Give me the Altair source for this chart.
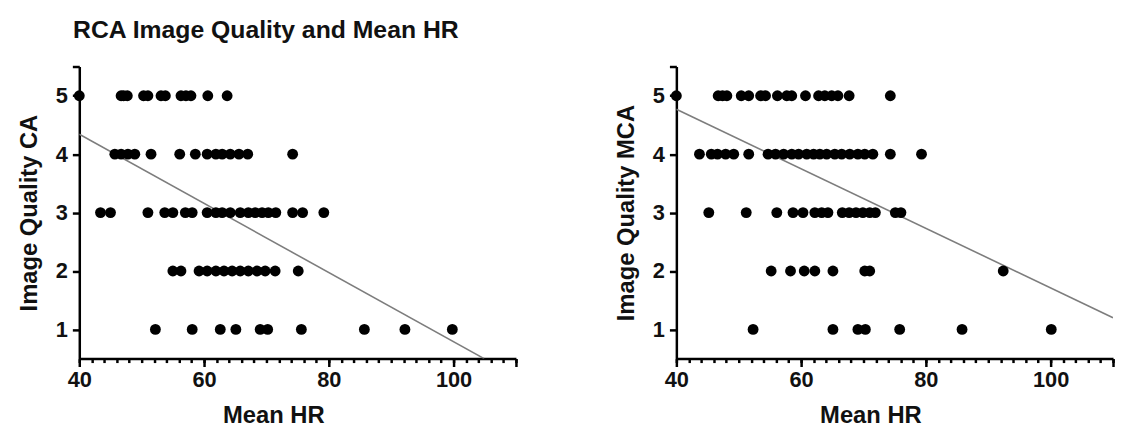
import altair as alt
import pandas as pd

# ---- data ----
quality_levels = [5, 4, 3, 2, 1]

rca_hr = {
    5: [40, 46.7, 47.1, 47.7, 50.3, 51.0, 53.1, 53.8, 56.3, 57.1, 57.9, 60.6, 63.7],
    4: [45.7, 46.7, 47.8, 48.9, 51.5, 56.1, 58.6, 60.5, 61.9, 62.9, 64.2, 65.6, 67.0, 74.2],
    3: [43.4, 45.0, 51.0, 53.7, 55.0, 57.0, 58.1, 60.5, 61.9, 62.9, 64.2, 65.8, 67.1,
        68.2, 69.3, 70.3, 71.5, 74.2, 75.8, 79.2],
    2: [55.0, 56.3, 59.2, 60.5, 61.9, 63.2, 64.5, 65.8, 67.1, 68.5, 69.8, 71.4, 75.1],
    1: [52.2, 58.1, 62.6, 65.1, 69.0, 70.2, 75.6, 85.7, 92.2, 99.8],
}
mca_hr = {
    5: [40, 46.7, 47.4, 48.1, 50.4, 51.6, 53.5, 54.3, 56.2, 57.7, 58.5, 60.7, 62.8,
        63.8, 64.9, 65.9, 67.7, 74.3],
    4: [43.7, 45.6, 46.6, 47.9, 49.2, 51.6, 54.7, 55.9, 57.2, 58.5, 59.6, 60.9, 62.0,
        63.0, 64.1, 65.4, 66.5, 67.8, 69.1, 70.2, 71.5, 74.3, 79.3],
    3: [45.2, 51.2, 56.1, 58.7, 60.3, 62.2, 63.3, 64.3, 66.6, 67.7, 68.8, 69.9, 71.0,
        71.9, 75.1, 76.0],
    2: [55.2, 58.3, 60.5, 62.2, 65.1, 70.2, 71.0, 92.4],
    1: [52.3, 65.1, 69.1, 70.3, 75.8, 85.8, 100.1],
}

# fitted lines as drawn in the reference (end points)
rca_line_x = [40, 104.9]
rca_line_y = [4.34, 0.5]
mca_line_x = [40, 110]
mca_line_y = [4.77, 1.20]

x_major_ticks = [40, 60, 80, 100, 110]
x_minor_ticks = list(range(40, 111, 2))
y_ticks = [1, 2, 3, 4, 5, 5.5]

title_text = "RCA Image Quality and Mean HR"
x_title = "Mean HR"
rca_y_title = "Image Quality CA"
mca_y_title = "Image Quality MCA"

FONT = "Liberation Sans"
W, H = 441, 295


def points_df(d):
    rows = []
    for q in quality_levels:
        for hr in d[q]:
            rows.append({"hr": hr, "q": q})
    return pd.DataFrame(rows)


def panel(d, lx, ly, ytitle):
    pts = points_df(d)
    line = pd.DataFrame({"hr": lx, "q": ly})
    xscale = alt.Scale(domain=[40, 110], nice=False, zero=False)
    yscale = alt.Scale(domain=[0.5, 5.5], nice=False, zero=False)
    major_axis = alt.Axis(
        title=x_title, orient="bottom", values=x_major_ticks, grid=False,
        labelExpr="datum.value <= 100 ? format(datum.value, 'd') : ''",
        tickSize=8, labelFlush=False, labelOverlap=False, labelPadding=3,
        labelFontSize=22, titleFontSize=24,
        titleX=196, titleY=46, titleAnchor="middle", titleAlign="center",
        titleBaseline="top",
    )
    minor_axis = alt.Axis(
        title=None, orient="bottom", values=x_minor_ticks, grid=False,
        labels=False, domain=False, tickSize=4,
    )
    yaxis = alt.Axis(
        title=ytitle, orient="left", values=y_ticks, grid=False,
        labelExpr="datum.value % 1 === 0 ? format(datum.value, 'd') : ''",
        tickSize=7, labelPadding=5, labelFlush=False, labelOverlap=False,
        labelFontSize=22, titleFontSize=24, titlePadding=14,
    )
    fit_line = alt.Chart(line).mark_line(color="#7d7d7d", strokeWidth=1.6, clip=True).encode(
        x=alt.X("hr:Q", scale=xscale, axis=major_axis),
        y=alt.Y("q:Q", scale=yscale, axis=yaxis),
    )
    dots = alt.Chart(pts).mark_circle(color="#000000", opacity=1, size=120).encode(
        x=alt.X("hr:Q", scale=xscale, axis=minor_axis),
        y=alt.Y("q:Q", scale=yscale),
    )
    return (
        alt.layer(fit_line, dots)
        .resolve_axis(x="independent")
        .properties(width=W, height=H)
    )


left = panel(rca_hr, rca_line_x, rca_line_y, rca_y_title)
right = panel(mca_hr, mca_line_x, mca_line_y, mca_y_title)

chart = alt.hconcat(left, right, spacing=97).properties(
    title=alt.TitleParams(
        text=title_text, anchor="start", fontSize=25, font=FONT,
        fontWeight="bold", color="#111111", dx=56, offset=13,
    ),
    padding={"left": 9, "top": 8, "right": 0, "bottom": 0},
).configure_view(stroke=None).configure_axis(
    domainColor="#000000", domainWidth=2.5, tickColor="#000000", tickWidth=2.5,
    labelFont=FONT, titleFont=FONT, labelFontWeight="bold", titleFontWeight="bold",
    labelColor="#111111", titleColor="#111111",
)

chart.save("out.html", embed_options={"renderer": "svg", "actions": False})
